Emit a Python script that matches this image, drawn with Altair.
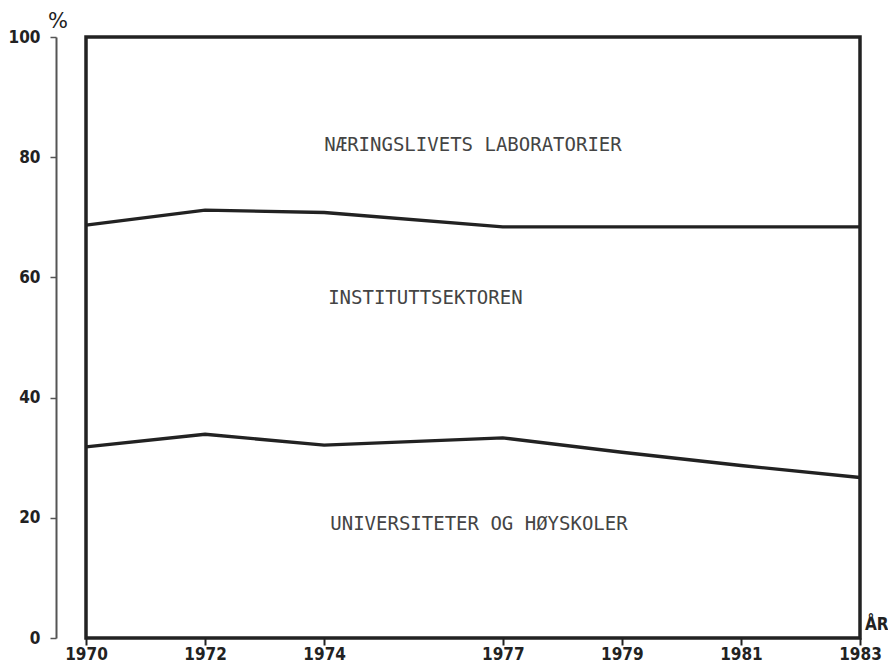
import altair as alt
import pandas as pd

years = [1970, 1972, 1974, 1977, 1979, 1981, 1983]
upper = [68.7, 71.2, 70.8, 68.4, 68.4, 68.4, 68.4]   # Universitet + Institutt (cumulative)
lower = [31.8, 33.9, 32.1, 33.3, 30.9, 28.7, 26.7]   # Universitet og høyskoler (cumulative)

region_labels = ["NÆRINGSLIVETS LABORATORIER", "INSTITUTTSEKTOREN", "UNIVERSITETER OG HØYSKOLER"]
label_years = [1976.5, 1975.7, 1976.6]
label_values = [82, 56.6, 19]

rows = []
for y, u, l in zip(years, upper, lower):
    rows.append({"year": y, "value": u, "series": "upper"})
    rows.append({"year": y, "value": l, "series": "lower"})
df = pd.DataFrame(rows)
lab = pd.DataFrame({"text": region_labels, "year": label_years, "value": label_values})

W, H = 774, 601
ink = "#222222"
bold_font = "DejaVu Sans Condensed"

x_scale = alt.Scale(domain=[1970, 1983], nice=False, zero=False)
y_scale = alt.Scale(domain=[0, 100], nice=False)

lines = alt.Chart(df).mark_line(color=ink, strokeWidth=3.4).encode(
    x=alt.X("year:Q", scale=x_scale,
            axis=alt.Axis(values=years, format="d", title=None, domain=False,
                          tickSize=7, tickWidth=2, tickColor=ink,
                          labelFont=bold_font, labelFontWeight="bold", labelFontSize=17,
                          labelColor=ink, labelPadding=1, labelFlush=False,
                          labelOverlap=False, grid=False)),
    y=alt.Y("value:Q", scale=y_scale,
            axis=alt.Axis(values=[0, 20, 40, 60, 80, 100], title=None, offset=30,
                          domainColor="#555555", domainWidth=2,
                          tickSize=6, tickWidth=1.5, tickColor="#555555",
                          labelFont=bold_font, labelFontWeight="bold", labelFontSize=17,
                          labelColor=ink, labelPadding=10, labelFlush=False,
                          labelOverlap=False, grid=False)),
    detail="series:N",
)

texts = alt.Chart(lab).mark_text(font="DejaVu Sans Mono", fontSize=19, color="#444444",
                                 align="center", baseline="middle").encode(
    x=alt.X("year:Q", scale=x_scale),
    y=alt.Y("value:Q", scale=y_scale),
    text="text:N",
)

pct = alt.Chart(pd.DataFrame({"t": ["%"]})).mark_text(
    fontSize=21, color=ink, align="center", baseline="middle", font="DejaVu Sans"
).encode(x=alt.value(-28), y=alt.value(-15), text="t:N")

aar = alt.Chart(pd.DataFrame({"t": ["ÅR"]})).mark_text(
    fontSize=17, fontWeight="bold", color=ink, align="left", baseline="middle", font=bold_font
).encode(x=alt.value(W + 5), y=alt.value(H - 13), text="t:N")

chart = alt.layer(lines, texts, pct, aar).properties(
    width=W, height=H,
    padding={"left": 78, "top": 29, "right": 28, "bottom": 24},
    autosize=alt.AutoSizeParams(type="none"),
    background="white",
).configure_view(stroke=ink, strokeWidth=3.5)

chart.save("out.html", embed_options={"renderer": "svg", "actions": False})
